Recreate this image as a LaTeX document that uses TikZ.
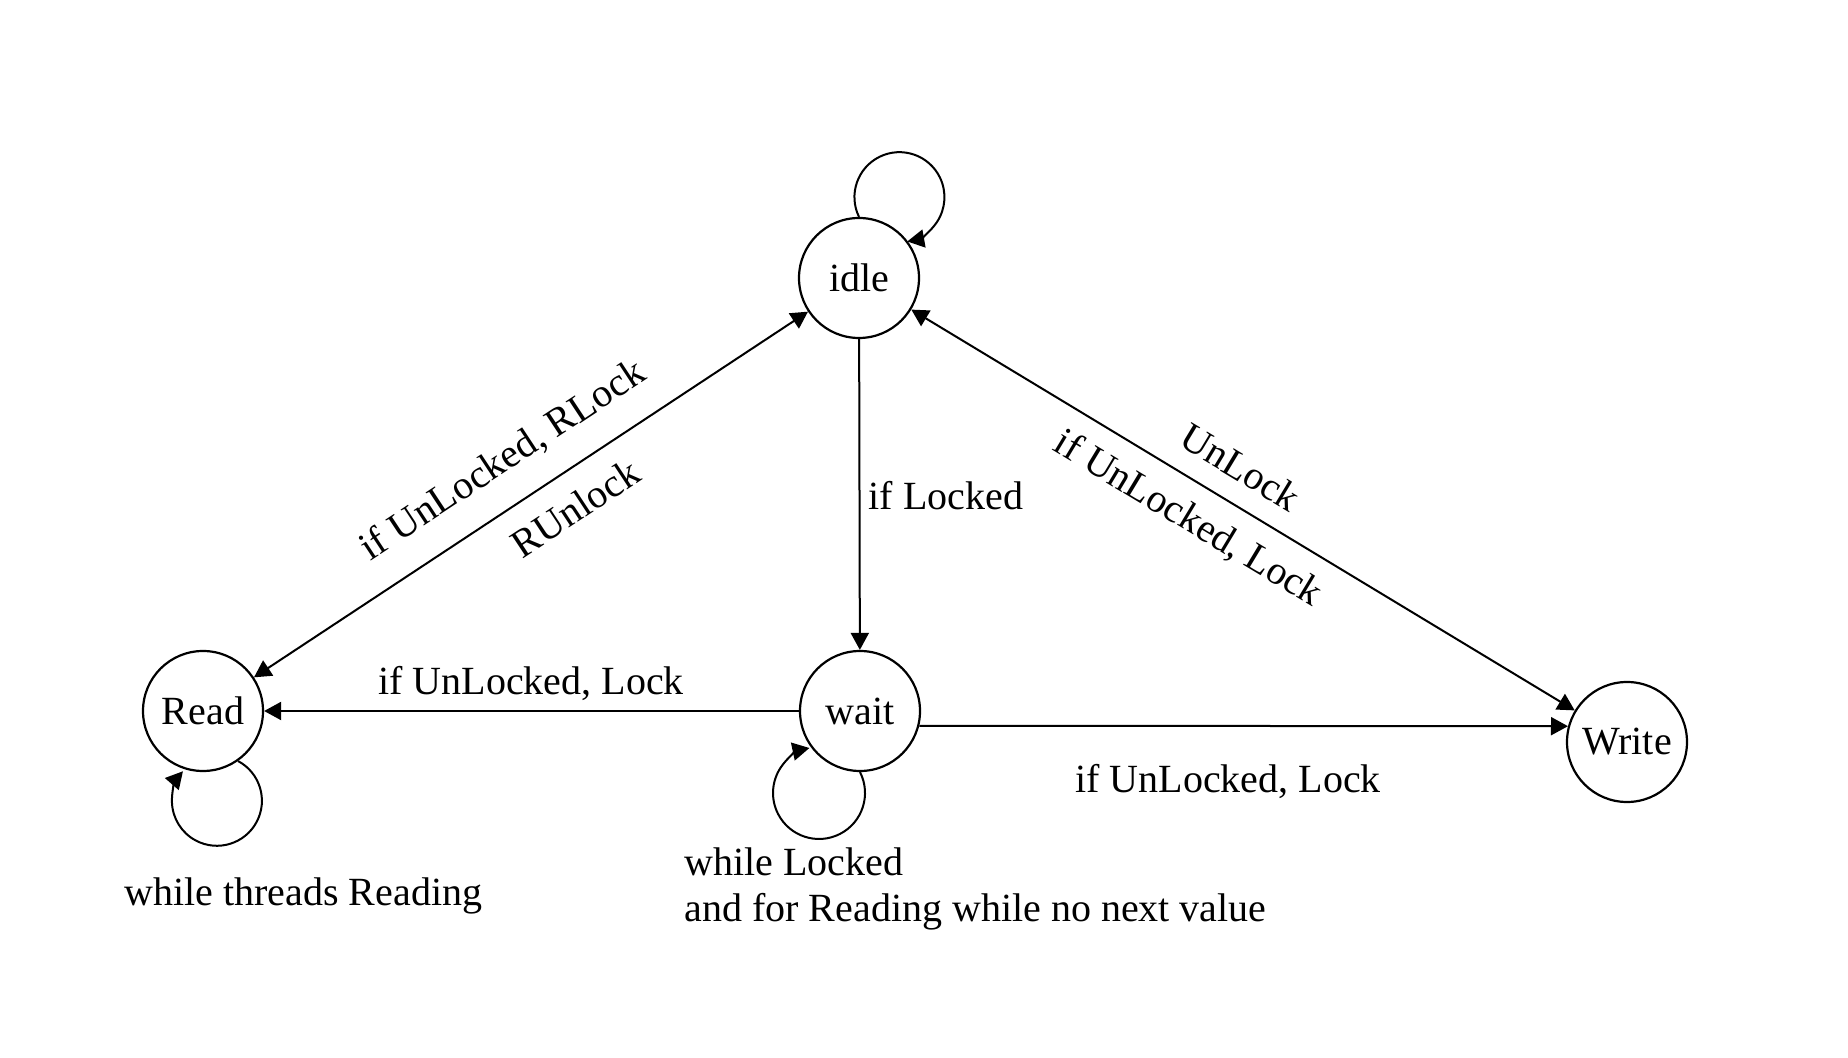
\documentclass[tikz,border=0pt]{standalone}
\usepackage{fontspec}
\setmainfont{Liberation Serif}
\usetikzlibrary{arrows.meta}

\begin{document}
\begin{tikzpicture}[x=0.5pt,y=0.5pt,yscale=-1,
  state/.style={draw,circle,line width=1.1pt,minimum size=60pt,inner sep=0pt,font=\fontsize{20}{23}\selectfont},
  lbl/.style={font=\fontsize{20}{23}\selectfont,inner sep=0pt},
  tip/.style={line width=1pt,-{Triangle[length=8.5pt,width=9pt]}},
  twotip/.style={line width=1pt,{Triangle[length=8.5pt,width=9pt]}-{Triangle[length=8.5pt,width=9pt]}}]
\useasboundingbox (0,0) rectangle (1848,1058);

% States
\node[state] (idle) at (859,278) {idle};
\node[state] (Read) at (203,711) {Read};
\node[state] (wait) at (860,711) {wait};
\node[state] (Write) at (1627,742) {Write};

% Transitions
\draw[twotip] (Read) -- (idle);
\draw[tip] (idle) -- (wait);
\draw[twotip] (idle) -- (Write);
\draw[tip] (wait) -- (Read);
\draw[tip] (wait.-14.5) -- (Write.165.5);

% Self loops
\draw[tip] (idle.north) arc[start angle=154, end angle=440, radius=45];
\draw[tip] (Read.-55) arc[start angle=-62, end angle=221, radius=45];
\draw[tip] (wait.south) arc[start angle=-27, end angle=258, radius=46];

% Labels
\node[lbl,rotate=33.4] (lRLock) at (503,461) {if UnLocked, RLock};
\node[lbl,rotate=33.4] (lRUnlock) at (575,508) {RUnlock};
\node[lbl] (lLocked) at (946,496) {if Locked};
\node[lbl,rotate=-31.1] (lUnLock) at (1241,467) {UnLock};
\node[lbl,rotate=-31.1] (lLock) at (1188,519) {if UnLocked, Lock};
\node[lbl,anchor=base] (lReadLock) at (531,695) {if UnLocked, Lock};
\node[lbl,anchor=base] (lWriteLock) at (1228,792) {if UnLocked, Lock};
\node[lbl,anchor=base west] (lReading) at (124,905) {while threads Reading};
\node[lbl,anchor=base west,align=left] (lWaiting) at (684,921) {while Locked\\and for Reading while no next value};

\end{tikzpicture}
\end{document}
